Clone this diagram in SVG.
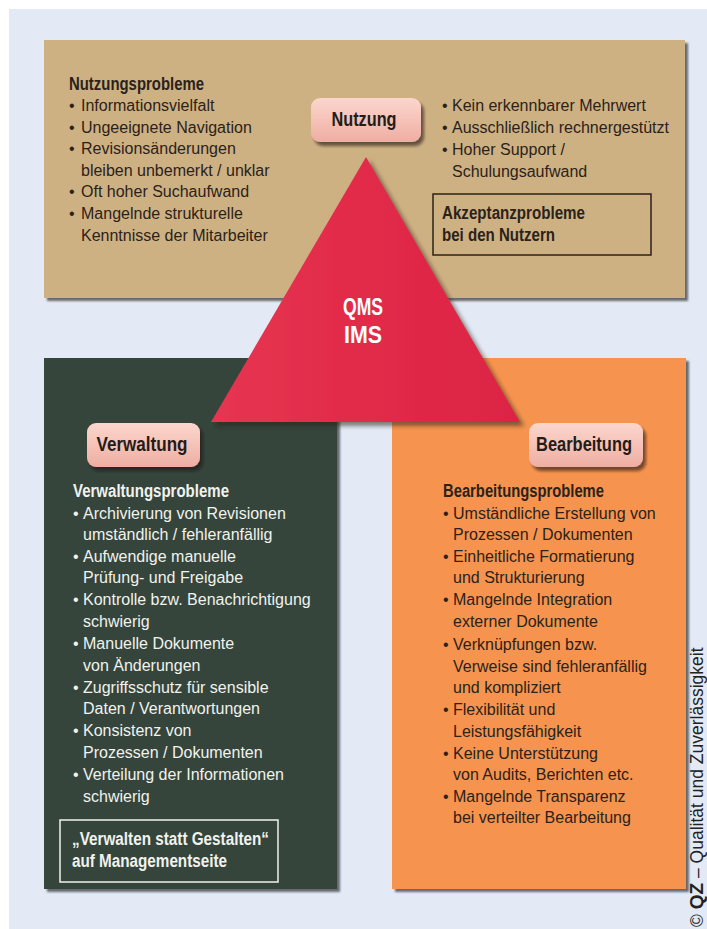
<svg xmlns="http://www.w3.org/2000/svg" width="707" height="929" viewBox="0 0 707 929">
  <defs>
    <filter id="boxShadow" x="-5%" y="-5%" width="115%" height="115%">
      <feDropShadow dx="3" dy="3" stdDeviation="1.2" flood-color="#000" flood-opacity="0.55"/>
    </filter>
    <filter id="triShadow" x="-10%" y="-10%" width="125%" height="125%">
      <feDropShadow dx="4" dy="4" stdDeviation="2" flood-color="#2a1a10" flood-opacity="0.55"/>
    </filter>
    <filter id="labelShadow" x="-15%" y="-20%" width="135%" height="150%">
      <feDropShadow dx="3" dy="4" stdDeviation="1.8" flood-color="#1a1008" flood-opacity="0.6"/>
    </filter>
    <linearGradient id="labelFill" x1="0" y1="0" x2="0" y2="1">
      <stop offset="0" stop-color="#fbd6cd"/>
      <stop offset="0.5" stop-color="#f6c2b8"/>
      <stop offset="1" stop-color="#eeaea2"/>
    </linearGradient>
    <linearGradient id="triFill" x1="0" y1="0" x2="1" y2="0">
      <stop offset="0" stop-color="#e63552"/>
      <stop offset="0.5" stop-color="#e22a49"/>
      <stop offset="1" stop-color="#dc2444"/>
    </linearGradient>
  </defs>
  <style>
    text { font-family: "Liberation Sans", Arial, sans-serif; }
    .body { font-size: 16px; }
    .head { font-size: 17.5px; font-weight: bold; }
    .dark { fill: #2b221a; }
    .light { fill: #f1f2ee; }
    .label { font-size: 20px; font-weight: bold; fill: #241c18; text-anchor: middle; }
    .labelBox { fill: url(#labelFill); filter: url(#labelShadow); }
    .core { font-size: 23px; font-weight: bold; fill: #ffffff; text-anchor: middle; }
  </style>

  <!-- page -->
  <rect x="0" y="0" width="707" height="929" fill="#ffffff"/>
  <rect x="9" y="9" width="698" height="920" fill="#e3eaf6"/>

  <!-- usage panel -->
  <g id="nutzung-panel">
    <rect x="44" y="40" width="641" height="258" fill="#ceb183" filter="url(#boxShadow)"/>
    <text class="head dark" x="69" y="90" textLength="135" lengthAdjust="spacingAndGlyphs">Nutzungsprobleme</text>
    <g class="body dark">
      <text x="69" y="111">•</text><text x="81" y="111">Informationsvielfalt</text>
      <text x="69" y="133">•</text><text x="81" y="133">Ungeeignete Navigation</text>
      <text x="69" y="154">•</text><text x="81" y="154">Revisionsänderungen</text>
      <text x="81" y="176">bleiben unbemerkt / unklar</text>
      <text x="69" y="197">•</text><text x="81" y="197">Oft hoher Suchaufwand</text>
      <text x="69" y="219">•</text><text x="81" y="219">Mangelnde strukturelle</text>
      <text x="81" y="241">Kenntnisse der Mitarbeiter</text>
      <text x="442" y="111">•</text><text x="452" y="111">Kein erkennbarer Mehrwert</text>
      <text x="442" y="133">•</text><text x="452" y="133">Ausschließlich rechnergestützt</text>
      <text x="442" y="155">•</text><text x="452" y="155">Hoher Support /</text>
      <text x="452" y="177">Schulungsaufwand</text>
    </g>
    <rect x="433" y="194" width="218" height="61" fill="none" stroke="#2b221a" stroke-width="1.5"/>
    <text class="head dark" x="442" y="219" textLength="143" lengthAdjust="spacingAndGlyphs">Akzeptanzprobleme</text>
    <text class="head dark" x="442" y="241" textLength="113" lengthAdjust="spacingAndGlyphs">bei den Nutzern</text>
  </g>

  <!-- administration panel -->
  <g id="verwaltung-panel">
    <rect x="44" y="358" width="293" height="531" fill="#36443a" filter="url(#boxShadow)"/>
    <text class="head light" x="73" y="497" textLength="156" lengthAdjust="spacingAndGlyphs">Verwaltungsprobleme</text>
    <g class="body light">
      <text x="73" y="519">•</text><text x="83" y="519">Archivierung von Revisionen</text>
      <text x="83" y="540">umständlich / fehleranfällig</text>
      <text x="73" y="562">•</text><text x="83" y="562">Aufwendige manuelle</text>
      <text x="83" y="583">Prüfung- und Freigabe</text>
      <text x="73" y="605">•</text><text x="83" y="605">Kontrolle bzw. Benachrichtigung</text>
      <text x="83" y="627">schwierig</text>
      <text x="73" y="649">•</text><text x="83" y="649">Manuelle Dokumente</text>
      <text x="83" y="671">von Änderungen</text>
      <text x="73" y="693">•</text><text x="83" y="693">Zugriffsschutz für sensible</text>
      <text x="83" y="714">Daten / Verantwortungen</text>
      <text x="73" y="736">•</text><text x="83" y="736">Konsistenz von</text>
      <text x="83" y="758">Prozessen / Dokumenten</text>
      <text x="73" y="780">•</text><text x="83" y="780">Verteilung der Informationen</text>
      <text x="83" y="802">schwierig</text>
    </g>
    <rect x="60" y="820" width="218" height="62" fill="none" stroke="#f1f2ee" stroke-width="1.5"/>
    <text class="head light" x="72" y="845" textLength="197" lengthAdjust="spacingAndGlyphs">„Verwalten statt Gestalten“</text>
    <text class="head light" x="72" y="867" textLength="155" lengthAdjust="spacingAndGlyphs">auf Managementseite</text>
  </g>

  <!-- editing panel -->
  <g id="bearbeitung-panel">
    <rect x="392" y="358" width="294" height="531" fill="#f6944f" filter="url(#boxShadow)"/>
    <text class="head dark" x="443" y="497" textLength="161" lengthAdjust="spacingAndGlyphs">Bearbeitungsprobleme</text>
    <g class="body dark">
      <text x="443" y="519">•</text><text x="453" y="519">Umständliche Erstellung von</text>
      <text x="453" y="540">Prozessen / Dokumenten</text>
      <text x="443" y="562">•</text><text x="453" y="562">Einheitliche Formatierung</text>
      <text x="453" y="583">und Strukturierung</text>
      <text x="443" y="605">•</text><text x="453" y="605">Mangelnde Integration</text>
      <text x="453" y="627">externer Dokumente</text>
      <text x="443" y="650">•</text><text x="453" y="650">Verknüpfungen bzw.</text>
      <text x="453" y="672">Verweise sind fehleranfällig</text>
      <text x="453" y="693">und kompliziert</text>
      <text x="443" y="715">•</text><text x="453" y="715">Flexibilität und</text>
      <text x="453" y="737">Leistungsfähigkeit</text>
      <text x="443" y="759">•</text><text x="453" y="759">Keine Unterstützung</text>
      <text x="453" y="780">von Audits, Berichten etc.</text>
      <text x="443" y="802">•</text><text x="453" y="802">Mangelnde Transparenz</text>
      <text x="453" y="823">bei verteilter Bearbeitung</text>
    </g>
  </g>

  <!-- central triangle -->
  <g id="qms-ims">
    <polygon points="366,157 520,422 211,422" fill="url(#triFill)" filter="url(#triShadow)"/>
    <text class="core" x="363" y="315" textLength="40" lengthAdjust="spacingAndGlyphs">QMS</text>
    <text class="core" x="363" y="343" textLength="38" lengthAdjust="spacingAndGlyphs">IMS</text>
  </g>

  <!-- corner labels -->
  <g id="label-nutzung">
    <rect class="labelBox" x="311" y="98" width="110" height="44" rx="9"/>
    <text class="label" x="364" y="126" textLength="65" lengthAdjust="spacingAndGlyphs">Nutzung</text>
  </g>
  <g id="label-verwaltung">
    <rect class="labelBox" x="87" y="423" width="113" height="44" rx="9"/>
    <text class="label" x="142" y="451" textLength="91" lengthAdjust="spacingAndGlyphs">Verwaltung</text>
  </g>
  <g id="label-bearbeitung">
    <rect class="labelBox" x="529" y="423" width="114" height="44" rx="9"/>
    <text class="label" x="584" y="451" textLength="96" lengthAdjust="spacingAndGlyphs">Bearbeitung</text>
  </g>

  <!-- copyright line -->
  <text transform="translate(703,927) rotate(-90)" font-size="17.5" fill="#222222">© <tspan font-weight="bold" font-size="19">QZ</tspan> – Qualität und Zuverlässigkeit</text>
</svg>
